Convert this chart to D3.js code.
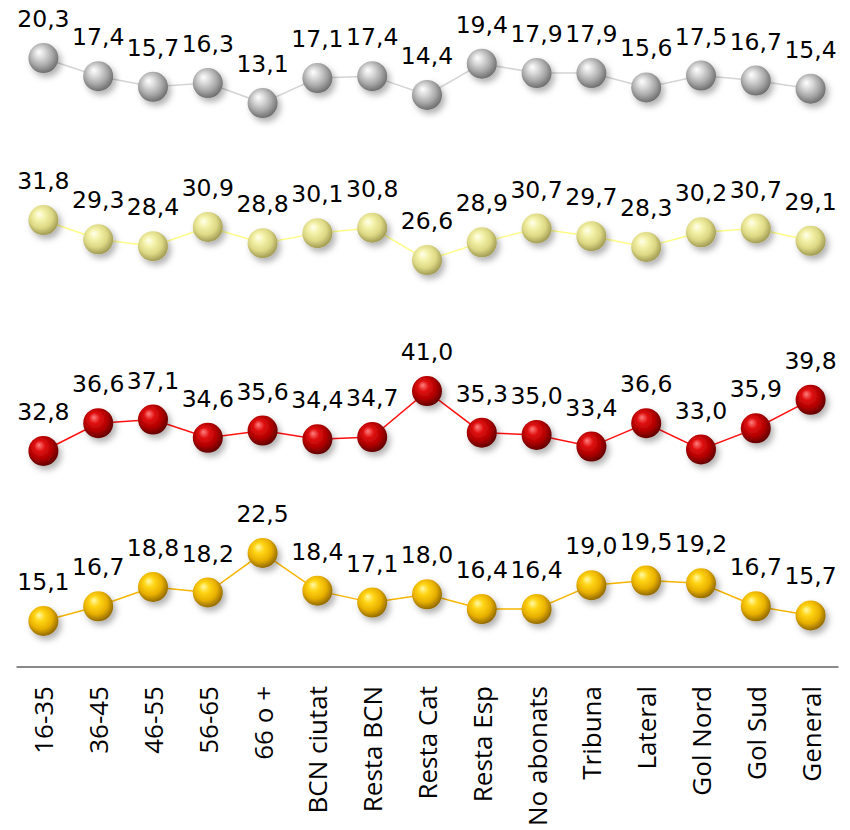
<!DOCTYPE html>
<html><head><meta charset="utf-8">
<script src="https://cdn.jsdelivr.net/npm/d3@7"></script>
<style>html,body{margin:0;padding:0;background:#fff;}svg{display:block;}</style>
</head><body>
<script>
const categories = ["16-35","36-45","46-55","56-65","66 o +","BCN ciutat","Resta BCN","Resta Cat","Resta Esp","No abonats","Tribuna","Lateral","Gol Nord","Gol Sud","General"];
const serieGris   = [20.3,17.4,15.7,16.3,13.1,17.1,17.4,14.4,19.4,17.9,17.9,15.6,17.5,16.7,15.4];
const serieCrema  = [31.8,29.3,28.4,30.9,28.8,30.1,30.8,26.6,28.9,30.7,29.7,28.3,30.2,30.7,29.1];
const serieVermella = [32.8,36.6,37.1,34.6,35.6,34.4,34.7,41.0,35.3,35.0,33.4,36.6,33.0,35.9,39.8];
const serieGroga  = [15.1,16.7,18.8,18.2,22.5,18.4,17.1,18.0,16.4,16.4,19.0,19.5,19.2,16.7,15.7];

const W = 850, H = 830;
const svg = d3.select("body").append("svg").attr("width", W).attr("height", H);
const defs = svg.append("defs");

const panels = [
  {id:"gris", values: serieGris, domain:[10,22], range:[122.4,47.4], line:"#d4d4d4",
   stops:["#ffffff","#dadada","#a8a8a8","#6a6a6a"]},
  {id:"crema", values: serieCrema, domain:[25,33], range:[272.4,210.8], line:"#ffff88",
   stops:["#ffffee","#f4f2aa","#dcd884","#9c9650"]},
  {id:"vermella", values: serieVermella, domain:[30,42], range:[471.4,383.8], line:"#ff1010",
   stops:["#ff8080","#e01010","#b00000","#5a0000"]},
  {id:"groga", values: serieGroga, domain:[14,24], range:[631.1,539.2], line:"#f7b500",
   stops:["#fffaa8","#ffd414","#e8b000","#8a6400"]}
];

const shadow = defs.append("filter").attr("id","sh").attr("x","-50%").attr("y","-50%").attr("width","220%").attr("height","220%");
shadow.append("feDropShadow").attr("dx",3).attr("dy",4).attr("stdDeviation",3).attr("flood-color","#000").attr("flood-opacity",0.3);

panels.forEach(p => {
  const g = defs.append("radialGradient").attr("id","grad-"+p.id)
    .attr("cx","45%").attr("cy","42%").attr("r","60%").attr("fx","35%").attr("fy","30%");
  [[0,p.stops[0]],[0.3,p.stops[1]],[0.65,p.stops[2]],[1,p.stops[3]]].forEach(([o,c]) =>
    g.append("stop").attr("offset",o).attr("stop-color",c));
});

const x = d3.scaleBand().domain(categories).range([16,838]).padding(0);
const cx = c => x(c) + x.bandwidth()/2;
const fmt = v => d3.format(".1f")(v).replace(".", ",");

panels.forEach(p => {
  const y = d3.scaleLinear().domain(p.domain).range(p.range);
  const data = categories.map((c,i) => ({c, v:p.values[i]}));
  const grp = svg.append("g");
  grp.append("path").datum(data)
    .attr("fill","none").attr("stroke",p.line).attr("stroke-width",1.5)
    .attr("d", d3.line().x(d => cx(d.c)).y(d => y(d.v)));
  grp.selectAll("circle").data(data).join("circle")
    .attr("cx", d => cx(d.c)).attr("cy", d => y(d.v)).attr("r",15)
    .attr("fill","url(#grad-"+p.id+")").attr("filter","url(#sh)");
  grp.selectAll("text").data(data).join("text")
    .attr("x", d => cx(d.c)).attr("y", d => y(d.v) - 31)
    .attr("text-anchor","middle")
    .attr("font-family","DejaVu Sans").attr("font-size",23.5).attr("fill","#000")
    .text(d => fmt(d.v));
});

// axis
const axisY = 666.5;
const axis = svg.append("g").attr("transform",`translate(0,${axisY})`)
  .call(d3.axisBottom(x).tickSize(0).tickPadding(0).tickFormat(""));
axis.select(".domain").attr("stroke","#8a8a8a").attr("stroke-width",2);

svg.append("g").selectAll("text").data(categories).join("text")
  .attr("transform", d => `translate(${cx(d)+10},686) rotate(-90)`)
  .attr("text-anchor","end")
  .attr("font-family","Open Sans").attr("font-size",26).attr("fill","#000")
  .text(d => d);
</script>
</body></html>
